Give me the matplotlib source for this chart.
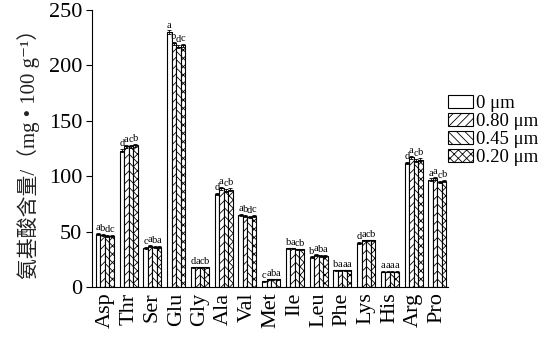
import matplotlib.pyplot as plt
import numpy as np

amino = ["Asp", "Thr", "Ser", "Glu", "Gly", "Ala", "Val", "Met",
         "Ile", "Leu", "Phe", "Lys", "His", "Arg", "Pro"]
series = ["0 μm", "0.80 μm", "0.45 μm", "0.20 μm"]

v0 = [48, 123, 35, 230, 18, 84, 65, 5, 35, 27, 15, 40, 14, 112, 97]
v80 = [47, 127, 37, 220, 18, 89, 64, 7, 35, 29, 15, 42, 14, 117, 98]
v45 = [46, 127, 36, 217, 18, 87, 63, 7, 34, 28, 15, 42, 14, 114, 95]
v20 = [46, 128, 36, 218, 18, 88, 64, 7, 34, 28, 15, 42, 14, 115, 96]
err = [1.0, 1.5, 0.8, 1.5, 0.5, 1.2, 0.8, 0.4, 0.6, 0.6, 0.4, 0.8, 0.4, 1.2, 1.0]

letters = ["abdc", "dacb", "caba", "abdc", "dacb", "dacb", "abdc", "caba",
           "bacb", "baba", "baaa", "dacb", "aaaa", "dacb", "aacb"]

plt.rcParams["font.family"] = ["Liberation Serif", "Noto Sans CJK SC", "DejaVu Sans"]
plt.rcParams["hatch.linewidth"] = 0.6

fig = plt.figure(figsize=(5.47, 3.57), dpi=100)
ax = fig.add_axes([0.168, 0.196, 0.651, 0.776])

hatches = ["", "////", "\\\\\\\\", "xxxx"]
w = 0.19
x = np.arange(len(amino))
data = [v0, v80, v45, v20]
for i, (vals, h, lab) in enumerate(zip(data, hatches, series)):
    xs = x + (i - 1.5) * w
    ax.bar(xs, vals, w, color="white", edgecolor="black", linewidth=0.8,
           hatch=h, label=lab)
    ax.errorbar(xs, vals, yerr=err, fmt="none", ecolor="black",
                elinewidth=0.6, capsize=1.2, capthick=0.6)
    for j in range(len(amino)):
        ax.text(xs[j], vals[j] + err[j] + 0.8, letters[j][i],
                ha="center", va="bottom", fontsize=7.5)

ax.set_xlim(-0.55, 14.45)
ax.set_ylim(0, 250)
ax.set_yticks([0, 50, 100, 150, 200, 250])
ax.set_xticks(x)
ax.set_xticklabels(amino, rotation=90, fontsize=16)
ax.tick_params(axis="y", labelsize=16, direction="out", length=4, pad=3)
ax.tick_params(axis="x", length=0, pad=4)
for s in ["top", "right"]:
    ax.spines[s].set_visible(False)
ax.set_ylabel("氨基酸含量/（mg • 100 g⁻¹）", fontsize=15, labelpad=6,
              color="#222222")

fig.legend(loc="upper left", bbox_to_anchor=(0.806, 0.755), frameon=False,
           fontsize=13.5, handlelength=1.3, handleheight=0.7,
           handletextpad=0.15, labelspacing=0.05, borderaxespad=0)

fig.savefig("out.png", dpi=100)
